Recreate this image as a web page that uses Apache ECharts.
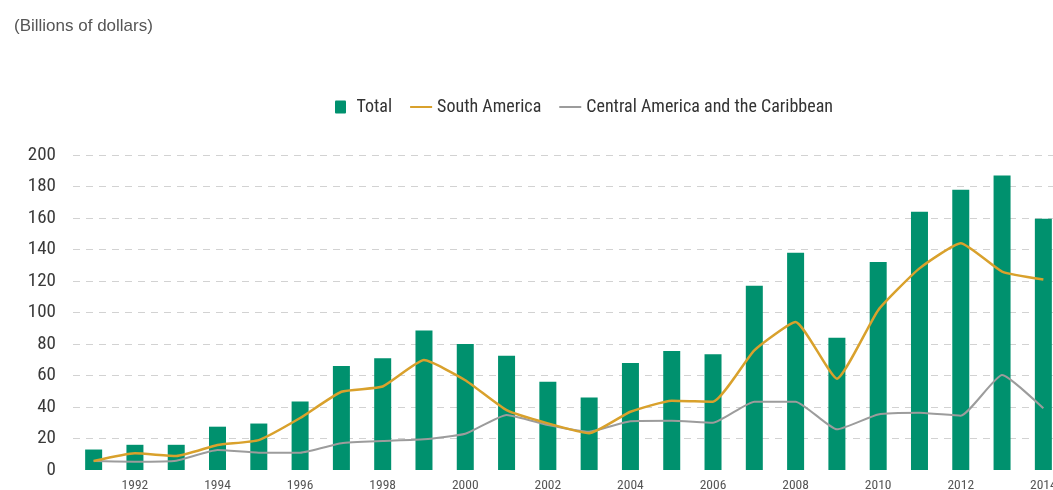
<!DOCTYPE html>
<html>
<head>
<meta charset="utf-8">
<title>Billions of dollars</title>
<script src="https://cdn.jsdelivr.net/npm/echarts@6/dist/echarts.min.js"></script>
<style>
  html, body { margin: 0; padding: 0; background: #ffffff; }
  #chart { width: 1053px; height: 490px; }
</style>
</head>
<body>
<div id="chart"></div>
<script>
// Years shown on the category axis
const years = [
  '1991', '1992', '1993', '1994', '1995', '1996', '1997', '1998', '1999', '2000',
  '2001', '2002', '2003', '2004', '2005', '2006', '2007', '2008', '2009', '2010',
  '2011', '2012', '2013', '2014'
];

// Total (bars), billions of dollars
const total = [
  13, 16, 16, 27.5, 29.5, 43.5, 66, 71, 88.5, 80,
  72.5, 56, 46, 68, 75.5, 73.5, 117, 138, 84, 132,
  164, 178, 187, 159.5
];

// South America (line)
const southAmerica = [
  5.7, 10.6, 8.9, 15.9, 19, 33, 49.7, 53, 69.8, 57,
  38, 29.6, 23.3, 37, 44, 43.4, 76, 94, 58, 101.5,
  128, 144, 126, 121
];

// Central America and the Caribbean (line)
const centralAmerica = [
  5.7, 5.3, 5.9, 12.7, 11, 11, 17, 18.4, 19.5, 23,
  35, 28.6, 24.3, 31, 31.3, 30, 43.4, 43.4, 25.8, 35.3,
  36.4, 34.5, 60.3, 39.2
];

// Y-axis range and step
const yMin = 0;
const yMax = 200;
const yStep = 20;

const chart = echarts.init(document.getElementById('chart'), null, { renderer: 'canvas' });

const condensed = '"Roboto Condensed", "Liberation Sans", Arial, sans-serif';
const lineIcon = 'path://M0,0H22V2H0Z';

chart.setOption({
  backgroundColor: '#ffffff',
  animation: false,
  title: {
    text: '(Billions of dollars)',
    left: 9,
    top: 13,
    textStyle: {
      fontFamily: '"Liberation Sans", Arial, sans-serif',
      fontSize: 17,
      fontWeight: 'normal',
      color: '#555555'
    }
  },
  legend: {
    top: 93,
    left: 330,
    itemGap: 18,
    itemWidth: 22,
    itemHeight: 13,
    symbolKeepAspect: true,
    textStyle: {
      fontFamily: condensed,
      fontSize: 18,
      color: '#333333'
    },
    data: [
      { name: 'Total', icon: 'path://M1,0h9a1,1 0 0 1 1,1v11a1,1 0 0 1 -1,1h-9a1,1 0 0 1 -1,-1v-11a1,1 0 0 1 1,-1z' },
      { name: 'South America', icon: lineIcon },
      { name: 'Central America and the Caribbean', icon: lineIcon }
    ]
  },
  // The plot runs a little past the right edge, so the last year is cut off
  grid: {
    left: 73,
    top: 155,
    width: 991,
    bottom: 20,
    containLabel: false,
    outerBoundsMode: 'none'
  },
  xAxis: {
    type: 'category',
    data: years,
    boundaryGap: true,
    axisLine: { show: false },
    axisTick: { show: false },
    axisLabel: {
      interval: (index, value) => Number(value) % 2 === 0,
      margin: 9,
      fontFamily: condensed,
      fontSize: 13.5,
      color: '#555555'
    }
  },
  yAxis: {
    type: 'value',
    min: yMin,
    max: yMax,
    interval: yStep,
    axisLine: { show: false },
    axisTick: { show: false },
    axisLabel: {
      margin: 17,
      fontFamily: condensed,
      fontSize: 19,
      color: '#3a3a3a'
    },
    splitLine: {
      show: true,
      showMinLine: false,
      lineStyle: { color: '#d2d2d2', width: 1, type: [7, 6] }
    }
  },
  series: [
    {
      name: 'Total',
      type: 'bar',
      data: total,
      barWidth: 17,
      itemStyle: { color: '#00916e' },
      z: 1
    },
    {
      name: 'South America',
      type: 'line',
      data: southAmerica,
      symbol: 'none',
      smooth: 0.15,
      lineStyle: { color: '#d9a12c', width: 2.5 },
      itemStyle: { color: '#d9a12c' },
      z: 3
    },
    {
      name: 'Central America and the Caribbean',
      type: 'line',
      data: centralAmerica,
      symbol: 'none',
      smooth: 0.15,
      lineStyle: { color: '#9c9c9c', width: 2 },
      itemStyle: { color: '#9c9c9c' },
      z: 2
    }
  ]
});
</script>
</body>
</html>
